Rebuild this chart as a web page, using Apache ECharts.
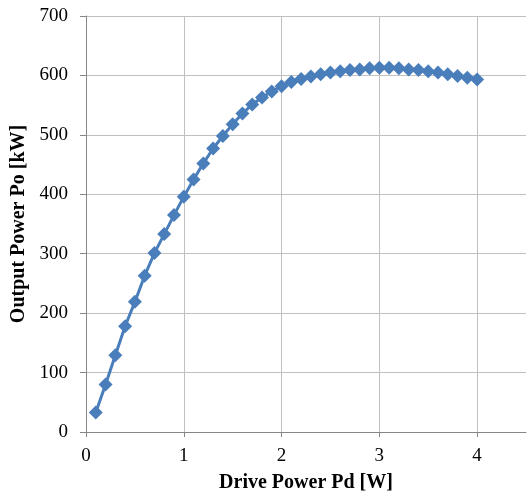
<!DOCTYPE html>
<html><head><meta charset="utf-8">
<script src="https://cdn.jsdelivr.net/npm/echarts@6/dist/echarts.min.js"></script>
<style>html,body{margin:0;padding:0;background:#fff}#c{width:527px;height:498px}</style>
</head><body><div id="c"></div>
<script>
const drivePower = [0.1,0.2,0.3,0.4,0.5,0.6,0.7,0.8,0.9,1.0,1.1,1.2,1.3,1.4,1.5,1.6,1.7,1.8,1.9,2.0,2.1,2.2,2.3,2.4,2.5,2.6,2.7,2.8,2.9,3.0,3.1,3.2,3.3,3.4,3.5,3.6,3.7,3.8,3.9,4.0];
const outputPower = [33,80,129,178,219,263,301,333,365,396,425,452,477,498,518,536,551,563,573,582,589,594,598,602,605,607,609,610,612,613,613,612,610,609,607,605,602,599,596,593];
const xLabels = [0,1,2,3,4];
const yTicks = [0,100,200,300,400,500,600,700];

const chart = echarts.init(document.getElementById('c'));
const font = '"Liberation Serif","Times New Roman",serif';
chart.setOption({
  animation:false,
  grid:{left:86,right:1,top:16,bottom:64,containLabel:false},
  xAxis:{type:'value',min:0,max:4.5,interval:0.5,
    name:'Drive Power Pd [W]',nameLocation:'middle',nameGap:41,
    nameTextStyle:{fontFamily:font,fontSize:20,fontWeight:'bold',color:'#000'},
    axisLine:{lineStyle:{color:'#868686',width:1}},
    axisTick:{show:true,customValues:xLabels,length:5,lineStyle:{color:'#868686'}},
    axisLabel:{customValues:xLabels,fontFamily:font,fontSize:19,color:'#000',margin:15},
    splitLine:{show:true,lineStyle:{color:'#c0c0c0',width:1}}
  },
  yAxis:{type:'value',min:0,max:700,interval:100,
    name:'Output Power Po [kW]',nameLocation:'middle',nameGap:51,
    nameTextStyle:{fontFamily:font,fontSize:20,fontWeight:'bold',color:'#000'},
    axisLine:{show:true,lineStyle:{color:'#868686',width:1}},
    axisTick:{show:true,length:6,lineStyle:{color:'#868686'}},
    axisLabel:{customValues:yTicks,fontFamily:font,fontSize:19,color:'#000',margin:18},
    splitLine:{show:true,lineStyle:{color:'#c0c0c0',width:1}}
  },
  series:[{type:'line',data:drivePower.map((x,i)=>[x,outputPower[i]]),
    symbol:'diamond',symbolSize:14,
    lineStyle:{color:'#4a7ebb',width:3},
    itemStyle:{color:'#4a7ebb'}}]
});
</script></body></html>
